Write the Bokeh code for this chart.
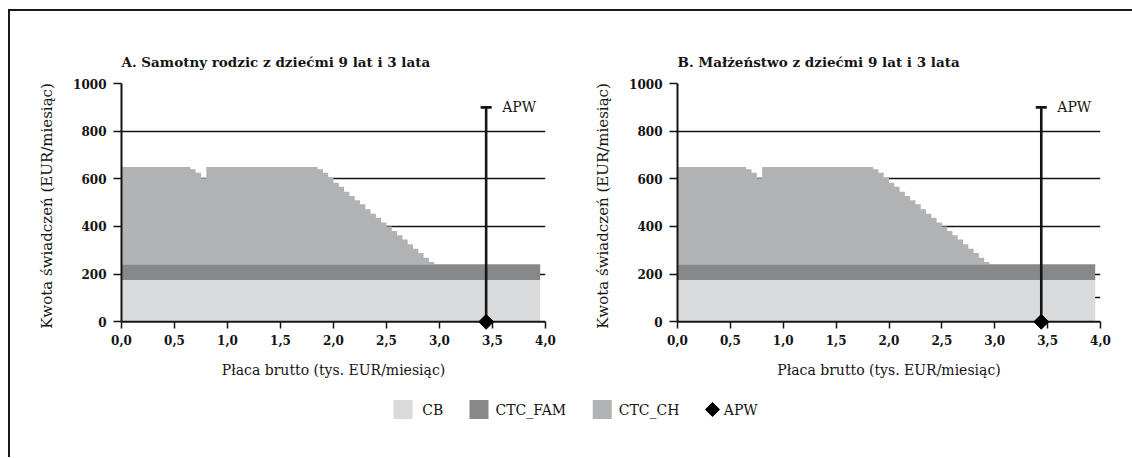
import math

from bokeh.core.properties import value
from bokeh.embed import file_html
from bokeh.layouts import column, row
from bokeh.models import ColumnDataSource, FixedTicker, Label, Range1d, Span
from bokeh.plotting import figure
from bokeh.resources import INLINE

FONT = "DejaVu Serif"
INK = "#141414"

# gross wage, thousand EUR per month (left edge of each 0.05 step)
wage = [
    0.00, 0.05, 0.10, 0.15, 0.20, 0.25, 0.30, 0.35, 0.40, 0.45,
    0.50, 0.55, 0.60, 0.65, 0.70, 0.75, 0.80, 0.85, 0.90, 0.95,
    1.00, 1.05, 1.10, 1.15, 1.20, 1.25, 1.30, 1.35, 1.40, 1.45,
    1.50, 1.55, 1.60, 1.65, 1.70, 1.75, 1.80, 1.85, 1.90, 1.95,
    2.00, 2.05, 2.10, 2.15, 2.20, 2.25, 2.30, 2.35, 2.40, 2.45,
    2.50, 2.55, 2.60, 2.65, 2.70, 2.75, 2.80, 2.85, 2.90, 2.95,
    3.00, 3.05, 3.10, 3.15, 3.20, 3.25, 3.30, 3.35, 3.40, 3.45,
    3.50, 3.55, 3.60, 3.65, 3.70, 3.75, 3.80, 3.85, 3.90, 3.95,
]

# benefit amounts, EUR per month
cb = [176] * len(wage)
ctc_fam = [66] * len(wage)
ctc_ch = [
    408, 408, 408, 408, 408, 408, 408, 408, 408, 408,
    408, 408, 408, 398, 384, 360, 408, 408, 408, 408,
    408, 408, 408, 408, 408, 408, 408, 408, 408, 408,
    408, 408, 408, 408, 408, 408, 408, 398, 384, 363,
    342, 325, 304, 286, 268, 251, 230, 212, 195, 175,
    158, 139, 121, 103, 83, 65, 47, 27, 9, 0,
    0, 0, 0, 0, 0, 0, 0, 0, 0, 0,
    0, 0, 0, 0, 0, 0, 0, 0, 0, 0,
]

# average production wage marker
apw_wage = 3.44
apw_top = 900

series = ["CB", "CTC_FAM", "CTC_CH", "APW"]
colors = ["#d9dadc", "#87888a", "#b1b2b4", "#000000"]

x_ticks = [0.0, 0.5, 1.0, 1.5, 2.0, 2.5, 3.0, 3.5, 4.0]
x_tick_labels = ["0,0", "0,5", "1,0", "1,5", "2,0", "2,5", "3,0", "3,5", "4,0"]
y_ticks = [0, 200, 400, 600, 800, 1000]

panel_titles = [
    "A. Samotny rodzic z dziećmi 9 lat i 3 lata",
    "B. Małżeństwo z dziećmi 9 lat i 3 lata",
]
x_label = "Płaca brutto (tys. EUR/miesiąc)"
y_label = "Kwota świadczeń (EUR/miesiąc)"


def stacked_source():
    base = [0] * len(wage)
    top_cb = [a for a in cb]
    top_fam = [a + b for a, b in zip(top_cb, ctc_fam)]
    top_ch = [a + b for a, b in zip(top_fam, ctc_ch)]
    return ColumnDataSource(dict(x=wage, base=base, cb=top_cb, fam=top_fam, ch=top_ch))


def panel(title, left_pad, frame_w, right_pad, grid_ticks):
    # the value range reaches a little below zero so the diamond sitting on
    # the wage axis is drawn whole; the wage axis line is drawn at zero and
    # its ticks run from there down to the frame edge
    p = figure(
        frame_width=frame_w, frame_height=245,
        min_border_left=left_pad, min_border_right=right_pad,
        min_border_top=72, min_border_bottom=52,
        x_range=Range1d(0, 4), y_range=Range1d(-28, 1000),
        output_backend="svg", toolbar_location=None,
        outline_line_color=None, background_fill_color="white",
        border_fill_color="white", title=title,
    )
    p.title.text_font = FONT
    p.title.text_font_style = "bold"
    p.title.text_font_size = "13.5px"
    p.title.text_color = INK
    p.title.align = "left"
    p.title.standoff = 28

    src = stacked_source()
    p.varea_step(x="x", y1="base", y2="cb", step_mode="after", source=src, fill_color=colors[0])
    p.varea_step(x="x", y1="cb", y2="fam", step_mode="after", source=src, fill_color=colors[1])
    p.varea_step(x="x", y1="fam", y2="ch", step_mode="after", source=src, fill_color=colors[2])

    p.xgrid.visible = False
    p.ygrid.ticker = FixedTicker(ticks=grid_ticks)
    p.ygrid.grid_line_color = INK
    p.ygrid.grid_line_width = 1.3

    p.add_layout(Span(location=0, dimension="width", line_color=INK, line_width=2))

    # APW marker: vertical bar with cap and diamond on the axis
    p.segment(x0=[apw_wage], y0=[0], x1=[apw_wage], y1=[apw_top], line_color=INK, line_width=2.6)
    p.scatter(x=[apw_wage], y=[apw_top], marker="dash", size=11, line_color=INK, line_width=2.6)
    p.add_layout(Label(x=apw_wage, y=apw_top, x_offset=16, text="APW", text_baseline="middle",
                       text_font=FONT, text_font_size="14px", text_color=INK))

    xa, ya = p.xaxis[0], p.yaxis[0]
    xa.ticker = FixedTicker(ticks=x_ticks)
    xa.major_label_overrides = {t: s for t, s in zip(x_ticks, x_tick_labels)}
    ya.ticker = FixedTicker(ticks=y_ticks)
    ya.bounds = (0, 1000)
    for ax in (xa, ya):
        ax.axis_line_color = INK
        ax.axis_line_width = 2
        ax.major_tick_line_color = INK
        ax.major_tick_line_width = 1.5
        ax.major_tick_in = 0
        ax.minor_tick_line_color = None
        ax.major_label_text_font = FONT
        ax.major_label_text_font_style = "bold"
        ax.major_label_text_font_size = "12px"
        ax.major_label_text_color = INK
        ax.axis_label_text_font = FONT
        ax.axis_label_text_font_style = "normal"
        ax.axis_label_text_color = INK
    xa.axis_line_color = None
    xa.major_tick_in = 7
    xa.major_tick_out = 0
    xa.major_label_standoff = 6
    xa.axis_label = x_label
    xa.axis_label_text_font_size = "14px"
    xa.axis_label_standoff = 14
    ya.major_tick_out = 8
    ya.major_label_standoff = 7
    ya.axis_label = y_label
    ya.axis_label_text_font_size = "15px"
    ya.axis_label_standoff = 14

    p.scatter(x=[apw_wage], y=[0], marker="square", angle=math.pi / 4, size=10.5,
              fill_color=colors[3], line_color=colors[3], level="overlay")
    return p


pA = panel(panel_titles[0], 111, 424, 15, [200, 400, 600, 800, 1000])
pB = panel(panel_titles[1], 117, 423, 32, [100, 200, 400, 600, 800, 1000])

# legend strip (screen-like coordinates)
LW, LH = 1122, 77
pL = figure(width=LW, height=LH, x_range=Range1d(0, LW), y_range=Range1d(0, LH),
            min_border=0, output_backend="svg", toolbar_location=None,
            outline_line_color=None, border_fill_color="white", background_fill_color="white")
pL.axis.visible = False
pL.grid.visible = False
key_x = [392.5, 468.5, 591.7]
text_x = [411.7, 485.0, 608.3, 713.3]
key_y = 48
pL.rect(x=key_x, y=[key_y] * 3, width=19, height=19, width_units="screen", height_units="screen",
        fill_color=colors[:3], line_color=None)
pL.scatter(x=[702], y=[key_y], marker="square", angle=math.pi / 4, size=10,
           fill_color=colors[3], line_color=colors[3])
pL.text(x=text_x, y=[key_y] * 4, text=series, text_font=value(FONT), text_font_size="14px",
        text_baseline="middle", text_align="left", text_color=INK)

layout = column(
    row(pA, pB, spacing=0),
    pL,
    spacing=0,
    styles={"margin-left": "8px", "margin-top": "9px",
            "border-left": "2px solid #1a1a1a", "border-top": "2px solid #1a1a1a"},
)

open("out.html", "w").write(file_html(layout, INLINE))
